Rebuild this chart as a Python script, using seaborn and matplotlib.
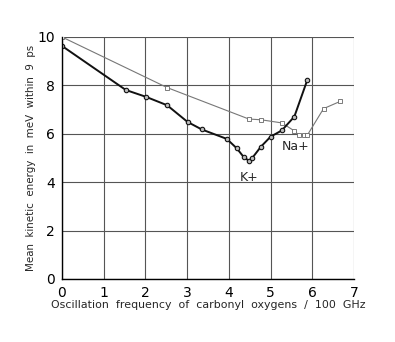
import matplotlib
matplotlib.use("Agg")
import matplotlib.pyplot as plt
import seaborn as sns
import pandas as pd

k_freq = [0.0, 1.53, 2.01, 2.52, 3.01, 3.35, 3.95, 4.19, 4.36, 4.48, 4.56, 4.77, 5.0, 5.27, 5.57, 5.88]
k_energy = [9.63, 7.81, 7.53, 7.18, 6.49, 6.18, 5.79, 5.40, 5.03, 4.89, 5.0, 5.47, 5.88, 6.14, 6.71, 8.22]
na_freq = [0.0, 2.52, 4.48, 4.77, 5.27, 5.57, 5.68, 5.80, 5.88, 6.27, 6.67]
na_energy = [10.0, 7.91, 6.61, 6.58, 6.45, 6.12, 5.94, 5.97, 5.94, 7.04, 7.34]
x_ticks = [0, 1, 2, 3, 4, 5, 6, 7]
y_ticks = [0, 2, 4, 6, 8, 10]

sns.set_style("white")
plt.rcParams['font.family'] = ['DejaVu Sans']

fig = plt.figure(figsize=(3.95, 3.42), dpi=100)
ax = fig.add_axes([62/395, 1-279/342, (354-62)/395, (279-37)/342])

k_df = pd.DataFrame({"x": k_freq, "y": k_energy})
na_df = pd.DataFrame({"x": na_freq, "y": na_energy})

sns.lineplot(data=na_df, x="x", y="y", sort=False, ax=ax, color="#777777",
             linewidth=0.8, marker="s", markersize=2.5, markerfacecolor="white",
             markeredgecolor="#666666", markeredgewidth=0.6)
sns.lineplot(data=k_df, x="x", y="y", sort=False, ax=ax, color="#111111",
             linewidth=1.4, marker="o", markersize=3.2, markerfacecolor="#bbbbbb",
             markeredgecolor="#111111", markeredgewidth=0.8)

ax.set_xlim(0, 7)
ax.set_ylim(0, 10)
ax.set_xticks(x_ticks)
ax.set_yticks(y_ticks)
ax.grid(True, color="#555555", linewidth=0.8)
ax.set_axisbelow(True)
for s in ["top", "right"]:
    ax.spines[s].set_visible(False)
for s in ["left", "bottom"]:
    ax.spines[s].set_color("black")
    ax.spines[s].set_linewidth(1.0)
ax.tick_params(axis="both", direction="out", length=4, width=0.8, labelsize=10, colors="black", pad=1)
ax.set_xlabel("Oscillation  frequency  of  carbonyl  oxygens  /  100  GHz", fontsize=7.9, labelpad=0)
ax.set_ylabel("Mean  kinetic  energy  in  meV  within  9  ps", fontsize=7.4, labelpad=1)

ax.text(4.48, 4.45, "K+", fontsize=9, ha="center", va="top")
ax.text(5.6, 5.75, "Na+", fontsize=9, ha="center", va="top")

fig.savefig("out.png", dpi=100)
